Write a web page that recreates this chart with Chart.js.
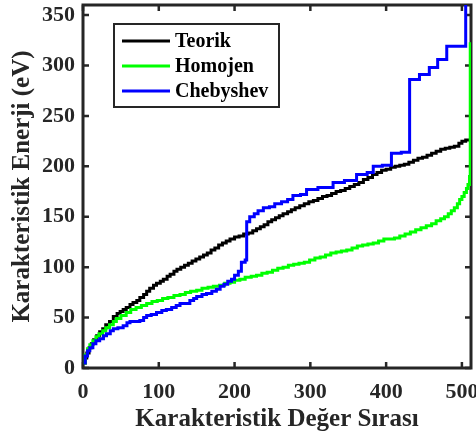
<!DOCTYPE html>
<html><head><meta charset="utf-8">
<script src="https://cdn.jsdelivr.net/npm/chart.js@4.4.1/dist/chart.umd.min.js"></script>
<style>html,body{margin:0;padding:0;background:#fff;}canvas{display:block;}</style>
</head><body>
<canvas id="c" width="476" height="437"></canvas>
<script>
// ---- data ----
const seriesNames = ['Teorik', 'Homojen', 'Chebyshev'];
const seriesColors = ['#000000', '#00ff00', '#0000ff'];

const teorikX = [1,3,5,8,11,14,18,22,26,30,35,40,45,49,53,57,62,66,71,75,80,84,88,93,97,102,106,111,115,120,124,129,134,139,144,149,154,159,164,169,174,179,184,189,194,200,206,212,218,224,229,234,239,244,249,254,259,264,270,275,280,286,292,298,304,310,316,322,328,334,340,346,352,358,364,370,376,382,388,394,400,406,412,418,424,430,436,442,448,454,460,466,472,478,484,490,496,500,505,511];
const teorikY = [5,10,15,20,24,28,32,36,39,43,46,51,54,56,58,60,63,65,67,70,73,76,79,82,84,86,88,91,93,96,98,100,102,104,106,108,110,112,114,117,119,122,124,126,128,130,131,133,134,136,138,140,142,145,147,149,151,153,155,157,159,161,163,165,166,168,170,171,173,175,176,178,180,182,184,187,189,192,194,196,197,199,200,201,202,204,206,208,209,211,213,215,217,218,219,220,223,225,226,227];

const homojenX = [1,3,6,9,13,17,21,26,30,35,40,44,50,57,63,70,77,84,91,98,105,112,120,128,135,142,150,157,165,172,180,187,194,200,207,214,222,229,236,243,250,257,264,271,278,285,292,299,306,313,320,327,334,341,348,355,362,369,376,383,390,397,404,411,418,425,432,439,446,453,460,466,472,477,482,486,490,494,497,500,503,506,508,510,511];
const homojenY = [5,13,19,23,27,31,34,37,40,43,46,49,52,55,58,60,62,64,66,67,69,70,72,73,75,76,77,79,80,81,82,84,85,87,88,90,91,92,94,95,97,99,100,102,103,104,105,107,109,110,112,114,115,116,117,119,121,122,123,124,126,128,128,129,131,133,135,137,139,141,143,146,148,150,153,156,159,163,167,170,174,178,182,190,323];

const chebyshevX = [1,3,6,9,13,17,22,27,31,36,40,46,53,58,62,75,80,84,90,97,104,110,117,123,128,141,146,150,157,163,170,176,181,186,191,196,200,205,209,214,216,220,226,231,238,246,253,262,270,277,287,295,310,330,345,361,375,383,395,407,420,431,444,457,468,480,505,512];
const chebyshevY = [5,12,17,20,24,27,29,32,34,37,39,40,42,45,46,47,50,52,53,55,57,58,60,62,64,67,69,71,73,74,76,78,81,83,86,88,92,96,105,107,145,150,153,156,159,160,163,165,167,171,172,177,179,184,186,192,194,200,201,213,214,286,291,298,306,319,380,380];

const xTicks = [0, 100, 200, 300, 400, 500];
const yTicks = [0, 50, 100, 150, 200, 250, 300, 350];
const xTitle = 'Karakteristik Değer Sırası';
const yTitle = 'Karakteristik Enerji (eV)';

// ---- build ----
const pts = (xs, ys) => xs.map((x, i) => ({x: x, y: ys[i]}));
const AX = '#262626';
const FAM = '"Liberation Serif", "Times New Roman", serif';

const framePlugin = {
  id: 'frame',
  beforeDatasetsDraw(chart) {
    const {ctx, chartArea: a, scales: {x, y}} = chart;
    ctx.save();
    ctx.strokeStyle = AX;
    ctx.lineWidth = 3;
    ctx.strokeRect(a.left, a.top, a.right - a.left, a.bottom - a.top);
    ctx.lineWidth = 2.5;
    ctx.beginPath();
    xTicks.forEach(v => {
      const px = x.getPixelForValue(v);
      ctx.moveTo(px, a.bottom); ctx.lineTo(px, a.bottom - 6);
      ctx.moveTo(px, a.top); ctx.lineTo(px, a.top + 6);
    });
    yTicks.forEach(v => {
      const py = y.getPixelForValue(v);
      ctx.moveTo(a.left, py); ctx.lineTo(a.left + 6, py);
      ctx.moveTo(a.right, py); ctx.lineTo(a.right - 6, py);
    });
    ctx.stroke();
    ctx.restore();
  }
};

const legendPlugin = {
  id: 'boxLegend',
  afterDatasetsDraw(chart) {
    const {ctx, chartArea: a} = chart;
    const bx = a.left + 31, by = a.top + 19, bw = 165, bh = 83;
    ctx.save();
    ctx.fillStyle = '#fff';
    ctx.fillRect(bx, by, bw, bh);
    ctx.strokeStyle = AX;
    ctx.lineWidth = 2;
    ctx.strokeRect(bx, by, bw, bh);
    ctx.font = 'bold 20px ' + FAM;
    ctx.textBaseline = 'middle';
    ctx.textAlign = 'left';
    seriesNames.forEach((name, i) => {
      const ly = by + 17 + i * 25;
      ctx.strokeStyle = seriesColors[i];
      ctx.lineWidth = 3;
      ctx.beginPath();
      ctx.moveTo(bx + 8, ly); ctx.lineTo(bx + 56, ly);
      ctx.stroke();
      ctx.fillStyle = '#000';
      ctx.fillText(name, bx + 61, ly + 1);
    });
    ctx.restore();
  }
};

new Chart(document.getElementById('c'), {
  type: 'line',
  data: {
    datasets: [
      {label: seriesNames[0], data: pts(teorikX, teorikY), borderColor: seriesColors[0], order: 2},
      {label: seriesNames[1], data: pts(homojenX, homojenY), borderColor: seriesColors[1], order: 1},
      {label: seriesNames[2], data: pts(chebyshevX, chebyshevY), borderColor: seriesColors[2], order: 0}
    ]
  },
  options: {
    responsive: false,
    animation: false,
    devicePixelRatio: 1,
    layout: {padding: {top: 5, right: 5, left: 0, bottom: 0}},
    elements: {
      point: {radius: 0, hoverRadius: 0},
      line: {borderWidth: 3, stepped: true, tension: 0, fill: false, borderJoinStyle: 'miter'}
    },
    plugins: {legend: {display: false}, tooltip: {enabled: false}},
    scales: {
      x: {
        type: 'linear', min: 0, max: 512,
        grid: {display: false, drawTicks: false}, border: {display: false},
        ticks: {stepSize: 100, includeBounds: false, padding: 11, maxRotation: 0,
                color: AX, font: {family: FAM, size: 22, weight: 'bold'}},
        title: {display: true, text: xTitle, color: AX,
                font: {family: FAM, size: 25, weight: 'bold'}, padding: {top: 0, bottom: 2}},
        afterFit(s) { s.height = 69; s.paddingLeft = 0; s.paddingRight = 0; s.paddingTop = 0; s.paddingBottom = 0; }
      },
      y: {
        type: 'linear', min: 0, max: 360,
        grid: {display: false, drawTicks: false}, border: {display: false},
        ticks: {stepSize: 50, includeBounds: false, padding: 8,
                color: AX, font: {family: FAM, size: 22, weight: 'bold'}},
        title: {display: true, text: yTitle, color: AX,
                font: {family: FAM, size: 25, weight: 'bold'}, padding: {top: 8, bottom: 0}},
        afterFit(s) { s.width = 83; s.paddingLeft = 0; s.paddingRight = 0; s.paddingTop = 0; s.paddingBottom = 0; }
      }
    }
  },
  plugins: [framePlugin, legendPlugin]
});
</script>
</body></html>
